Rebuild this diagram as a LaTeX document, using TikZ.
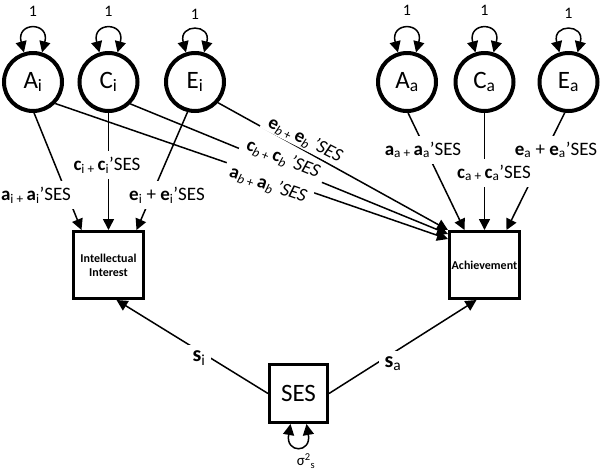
\documentclass[tikz,border=0pt]{standalone}
\usepackage{fontspec}
\setmainfont{Carlito}
\usetikzlibrary{arrows.meta}
\newcommand{\parsm}[2]{\textbf{#1}\textsubscript{#2 + }\textbf{#1}\textsubscript{#2}’SES}
\newcommand{\parbg}[2]{\textbf{#1}\textsubscript{#2} + \textbf{#1}\textsubscript{#2}’SES}
\newcommand{\parsl}[2]{\textbf{#1}\textsubscript{\textit{#2} + }\textbf{#1}\textsubscript{\textit{#2}}\,\textit{’SES}}
\begin{document}
\begin{tikzpicture}[x=1pt,y=-1pt,
lat/.style={circle,draw,line width=4pt,minimum size=58pt,inner sep=0pt,font=\fontsize{25}{25}\selectfont},
obs/.style={draw,line width=3pt,minimum width=70pt,minimum height=67pt,inner sep=0pt,align=center,font=\fontsize{12}{14}\selectfont\bfseries},
load/.style={line width=1.5pt,-{Triangle[length=11pt,width=11pt]}},
vararrow/.style={line width=1.5pt,{Triangle[length=11pt,width=11pt]}-{Triangle[length=11pt,width=11pt]}},
lab/.style={fill=white,inner sep=6pt,font=\fontsize{19}{19}\selectfont},
slab/.style={fill=white,inner xsep=6pt,inner ysep=1pt,font=\fontsize{19}{19}\selectfont},
unit/.style={font=\fontsize{16}{16}\selectfont}]
\useasboundingbox (0,0) rectangle (600,472);
\node[lat] (Ai) at (33,82) {A\textsubscript{i}};
\node[lat] (Ci) at (108.5,82) {C\textsubscript{i}};
\node[lat] (Ei) at (195,82) {E\textsubscript{i}};
\node[lat] (Aa) at (407,82) {A\textsubscript{a}};
\node[lat] (Ca) at (484.5,82) {C\textsubscript{a}};
\node[lat] (Ea) at (568.5,82) {E\textsubscript{a}};
\node[obs] (II) at (108.5,265) {Intellectual\\Interest};
\node[obs] (Ach) at (484.5,265) {Achievement};
\node[obs,minimum width=58pt,minimum height=58pt,font=\fontsize{25}{25}\selectfont] (SES) at (298.5,393.5) {SES};
\draw[vararrow] (Ai.107) .. controls +(105:32pt) and +(75:32pt) .. (Ai.73);
\draw[vararrow] (Ci.107) .. controls +(105:32pt) and +(75:32pt) .. (Ci.73);
\draw[vararrow] (Ei.107) .. controls +(105:30pt) and +(75:30pt) .. (Ei.73);
\draw[vararrow] (Aa.107) .. controls +(105:32pt) and +(75:32pt) .. (Aa.73);
\draw[vararrow] (Ca.107) .. controls +(105:32pt) and +(75:32pt) .. (Ca.73);
\draw[vararrow] (Ea.107) .. controls +(105:30pt) and +(75:30pt) .. (Ea.73);
\draw[vararrow] ([xshift=-8pt]SES.south) .. controls +(-100:30pt) and +(-80:30pt) .. ([xshift=8pt]SES.south);
\node[unit] (Ai1) at (33,11) {1};
\node[unit] (Ci1) at (108.5,11) {1};
\node[unit] (Ei1) at (195,14) {1};
\node[unit] (Aa1) at (407,10) {1};
\node[unit] (Ca1) at (484.5,10) {1};
\node[unit] (Ea1) at (568.5,13) {1};
\node[font=\fontsize{15}{15}\selectfont] (sig) at (306,461) {σ\textsuperscript{2}\textsubscript{s}};
\draw[load] (Ai.272) -- ([xshift=-27pt]II.north);
\draw[load] (Ci) -- (II);
\draw[load] (Ei.256) -- ([xshift=28pt]II.north);
\draw[load] (Ai.316) -- ([yshift=-9pt]Ach.north west);
\draw[load] (Ci.315) -- ([yshift=-4pt]Ach.north west);
\draw[load] (Ei.318) -- (Ach.north west);
\draw[load] (Aa.272) -- ([xshift=-20pt]Ach.north);
\draw[load] (Ca) -- (Ach);
\draw[load] (Ea.263) -- ([xshift=22pt]Ach.north);
\draw[load] (SES.west) -- ([xshift=8pt]II.south);
\draw[load] (SES.east) -- ([xshift=-8pt]Ach.south);
\node[lab] (lai) at (36,195) {\parsm{a}{i}};
\node[lab] (lci) at (107,165) {\parsm{c}{i}};
\node[lab] (lei) at (167,195) {\parbg{e}{i}};
\node[lab] (laa) at (423,150) {\parsm{a}{a}};
\node[lab,inner xsep=11pt] (lca) at (494,173) {\parsm{c}{a}};
\node[lab] (lea) at (556,150) {\parbg{e}{a}};
\node[slab,rotate=-19] (lab) at (268,185) {\parsl{a}{b}};
\node[slab,rotate=-22] (lcb) at (283,159) {\parsl{c}{b}};
\node[slab,rotate=-27] (leb) at (305,140) {\parsl{e}{b}};
\node[lab,font=\fontsize{22}{22}\selectfont] (lsi) at (199,358) {\textbf{s}\textsubscript{i}};
\node[lab,font=\fontsize{22}{22}\selectfont] (lsa) at (393,364) {\textbf{s}\textsubscript{a}};
\end{tikzpicture}
\end{document}
